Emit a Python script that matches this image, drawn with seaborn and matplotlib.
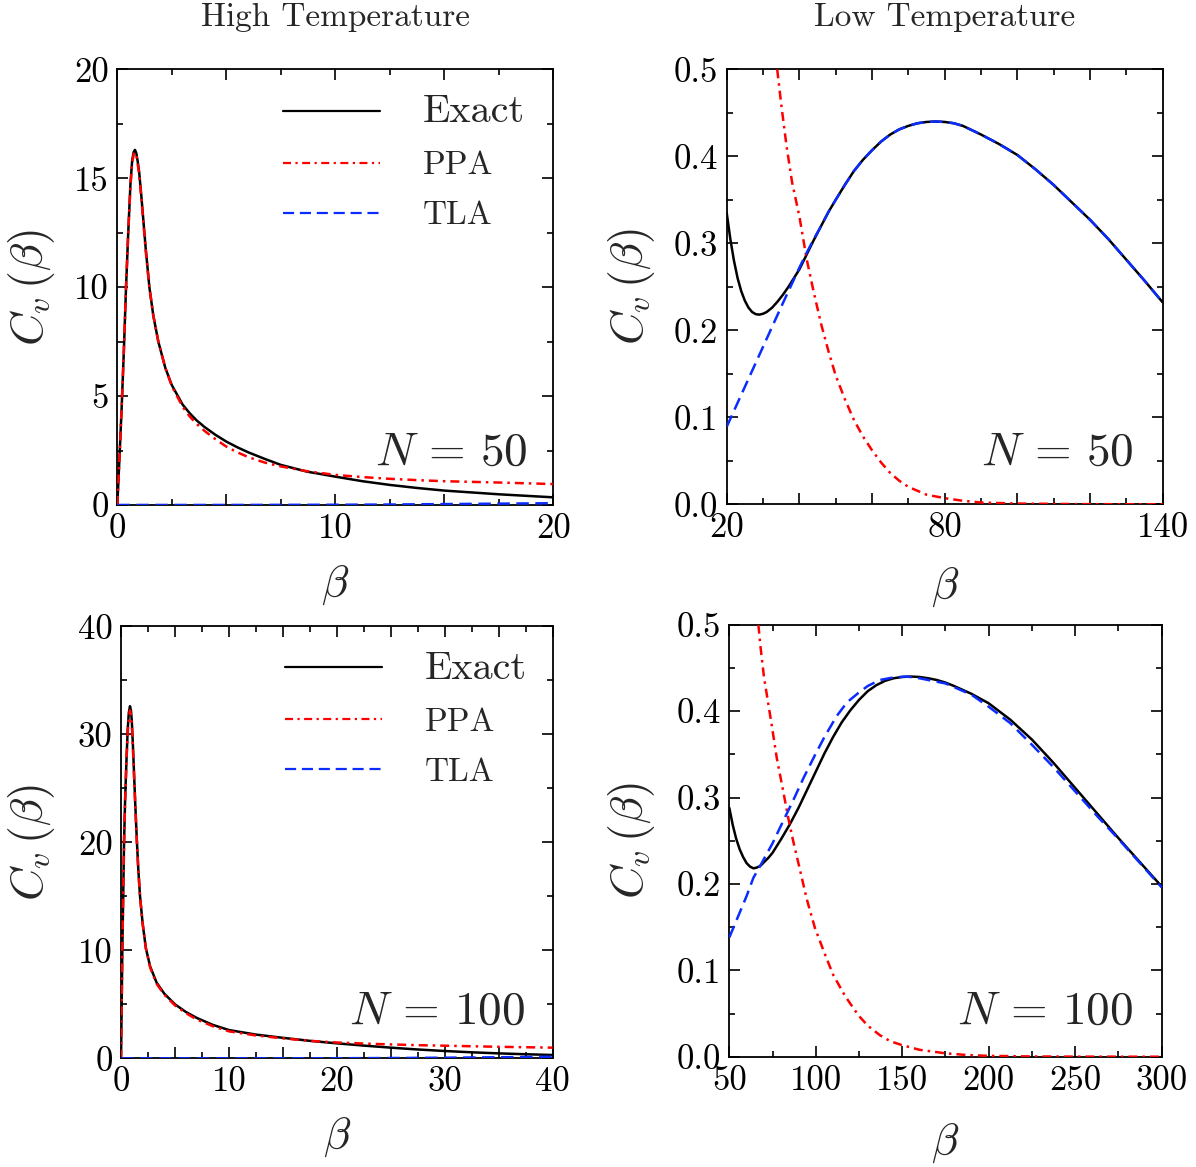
import numpy as np
import pandas as pd
import matplotlib
matplotlib.use("Agg")
import matplotlib.pyplot as plt
import seaborn as sns
from matplotlib.ticker import FixedLocator

sns.set_theme(style="ticks")
plt.rcParams.update({
    "font.family": "serif",
    "font.serif": ["cmr10"],
    "mathtext.fontset": "cm",
    "axes.formatter.use_mathtext": True,
    "axes.unicode_minus": False,
    "axes.linewidth": 1.3,
    "axes.edgecolor": "black",
})

# ---------------- data ----------------
# Panel (a): N = 50, high temperature
hi50_exact_beta = [0, 0.1, 0.2, 0.3, 0.4, 0.5, 0.6, 0.68, 0.75, 0.81, 0.87, 0.93, 1.0, 1.1, 1.2,
                   1.3, 1.47, 1.65, 1.88, 2.2, 2.5, 3.0, 3.33, 3.64, 4.0, 4.5, 5.0, 5.5, 6.0,
                   6.75, 7.5, 8.7, 10, 11.25, 12.5, 13.75, 15, 17.5, 20]
hi50_exact_cv = [0, 2.2, 4.5, 7.1, 10, 12.5, 14.7, 15.8, 16.2, 16.3, 16.15, 15.8, 15.3, 14.2, 13.0,
                 11.8, 10, 8.7, 7.5, 6.3, 5.5, 4.6, 4.2, 3.88, 3.58, 3.22, 2.91, 2.65, 2.42,
                 2.12, 1.84, 1.53, 1.30, 1.09, 0.92, 0.78, 0.66, 0.49, 0.35]
hi50_ppa_beta = [0, 0.1, 0.2, 0.3, 0.4, 0.5, 0.6, 0.68, 0.75, 0.81, 0.87, 0.93, 1.0, 1.1, 1.2,
                 1.3, 1.47, 1.65, 1.88, 2.2, 2.5, 3.0, 3.33, 3.64, 4.0, 4.5, 5.0, 5.5, 6.0,
                 6.75, 7.5, 8.7, 10, 11.25, 12.5, 13.75, 15, 17.5, 20]
hi50_ppa_cv = [0, 2.2, 4.5, 7.1, 10, 12.5, 14.6, 15.7, 16.1, 16.2, 16.05, 15.7, 15.2, 14.1, 12.9,
               11.7, 10, 8.7, 7.5, 6.3, 5.45, 4.5, 4.05, 3.72, 3.4, 3.02, 2.68, 2.42, 2.2,
               1.95, 1.77, 1.55, 1.38, 1.28, 1.20, 1.14, 1.09, 1.03, 0.96]
hi50_tla_beta = [0, 5, 10, 12.5, 15, 17.5, 20]
hi50_tla_cv = [0, 0, 0.01, 0.02, 0.04, 0.06, 0.08]

# Panel (b): N = 50, low temperature
lo50_exact_beta = [20, 21, 22, 23, 24, 25, 26, 27, 28, 29, 30, 31, 32.5, 34, 35.5, 37, 38.5, 40,
                   42, 44, 46, 48, 50, 52.5, 55, 57.5, 60, 62.5, 65, 67.5, 70, 72.5, 75, 77.5,
                   80, 82.5, 85, 87.5, 90, 95, 100, 105, 110, 115, 120, 125, 130, 135, 140]
lo50_exact_cv = [0.335, 0.305, 0.28, 0.26, 0.245, 0.234, 0.226, 0.221, 0.2185, 0.218, 0.219,
                 0.221, 0.226, 0.233, 0.241, 0.25, 0.26, 0.27, 0.287, 0.304, 0.32, 0.336, 0.35,
                 0.367, 0.383, 0.396, 0.407, 0.417, 0.425, 0.431, 0.435, 0.438, 0.4395, 0.44,
                 0.4395, 0.438, 0.435, 0.43, 0.425, 0.414, 0.4015, 0.385, 0.367, 0.347, 0.327,
                 0.305, 0.281, 0.257, 0.232]
lo50_tla_beta = [20, 25, 30, 35, 40, 42, 44, 46, 48, 50, 52.5, 55, 57.5, 60, 62.5, 65, 67.5, 70,
                 72.5, 75, 77.5, 80, 82.5, 85, 87.5, 90, 95, 100, 105, 110, 115, 120, 125, 130,
                 135, 140]
lo50_tla_cv = [0.089, 0.135, 0.181, 0.227, 0.272, 0.289, 0.305, 0.32, 0.336, 0.35, 0.367, 0.383,
               0.396, 0.407, 0.417, 0.425, 0.431, 0.435, 0.438, 0.4395, 0.44, 0.4395, 0.438,
               0.435, 0.43, 0.425, 0.414, 0.4015, 0.385, 0.367, 0.347, 0.327, 0.305, 0.281,
               0.257, 0.232]
lo50_ppa_beta = [33.9, 35, 36.5, 38, 40, 42, 44, 46, 48, 50, 52.5, 55, 57.5, 60, 62.5, 65, 67.5,
                 70, 75, 80, 85, 90, 100, 120, 140]
lo50_ppa_cv = [0.5, 0.46, 0.411, 0.37, 0.331, 0.282, 0.243, 0.207, 0.176, 0.148, 0.121, 0.097,
               0.078, 0.062, 0.048, 0.036, 0.027, 0.02, 0.011, 0.007, 0.004, 0.002, 0.0008,
               0.0001, 0.0]

# Panel (c): N = 100, high temperature
hi100_exact_beta = [0, 0.06, 0.12, 0.2, 0.28, 0.38, 0.5, 0.62, 0.72, 0.83, 0.92, 1.0, 1.1, 1.2,
                    1.32, 1.45, 1.6, 1.76, 2.0, 2.3, 2.7, 3.3, 4.0, 5.0, 6.0, 7.0, 8.5, 10, 12.5,
                    15, 17.5, 20, 22.5, 25, 27.5, 30, 32.5, 35, 37.5, 40]
hi100_exact_cv = [0, 5, 10, 15, 20, 24, 27.5, 30.5, 32, 32.6, 32.2, 31.2, 29, 26.5, 23.5, 20.5,
                  17.5, 15, 12.5, 10.2, 8.5, 7.0, 6.0, 5.0, 4.3, 3.75, 3.1, 2.62, 2.2, 1.9, 1.62,
                  1.39, 1.18, 0.99, 0.82, 0.68, 0.56, 0.46, 0.38, 0.31]
hi100_ppa_beta = [0, 0.06, 0.12, 0.2, 0.28, 0.38, 0.5, 0.62, 0.72, 0.83, 0.92, 1.0, 1.1, 1.2,
                  1.32, 1.45, 1.6, 1.76, 2.0, 2.3, 2.7, 3.3, 4.0, 5.0, 6.0, 7.0, 8.5, 10, 12.5,
                  15, 17.5, 20, 22.5, 25, 27.5, 30, 32.5, 35, 37.5, 40]
hi100_ppa_cv = [0, 5, 10, 15, 20, 24, 27.4, 30.2, 31.5, 32.2, 31.8, 30.9, 28.8, 26.3, 23.4, 20.4,
                17.4, 15, 12.5, 10.2, 8.4, 6.9, 5.9, 4.9, 4.2, 3.6, 2.98, 2.5, 2.12, 1.85, 1.62,
                1.47, 1.37, 1.29, 1.22, 1.17, 1.12, 1.07, 1.03, 0.99]
hi100_tla_beta = [0, 10, 20, 25, 30, 35, 40]
hi100_tla_cv = [0, 0, 0.01, 0.03, 0.06, 0.1, 0.15]

# Panel (d): N = 100, low temperature
lo100_exact_beta = [50, 52, 54, 56, 58, 60, 62, 64, 66, 68, 70, 72.5, 75, 80, 85, 90, 95, 100,
                    105, 110, 115, 120, 125, 130, 135, 140, 145, 150, 155, 160, 165, 170, 175,
                    180, 190, 200, 212.5, 225, 237.5, 250, 262.5, 275, 287.5, 300]
lo100_exact_cv = [0.288, 0.268, 0.252, 0.24, 0.231, 0.224, 0.22, 0.218, 0.219, 0.221, 0.225,
                  0.23, 0.236, 0.252, 0.269, 0.288, 0.309, 0.33, 0.351, 0.37, 0.387, 0.401,
                  0.413, 0.423, 0.43, 0.435, 0.438, 0.4395, 0.44, 0.4395, 0.438, 0.436, 0.433,
                  0.429, 0.42, 0.409, 0.39, 0.367, 0.34, 0.311, 0.282, 0.253, 0.225, 0.197]
lo100_tla_beta = [50, 55, 60, 63.9, 68.7, 75, 80, 87, 93, 99.5, 105, 112, 118, 124.6, 130, 137,
                  145, 152.5, 160, 175, 190, 200, 212.5, 225, 237.5, 250, 262.5, 275, 287.5, 300]
lo100_tla_cv = [0.138, 0.162, 0.186, 0.207, 0.224, 0.247, 0.268, 0.297, 0.323, 0.349, 0.37,
                0.394, 0.41, 0.421, 0.429, 0.436, 0.439, 0.44, 0.438, 0.432, 0.419, 0.405,
                0.386, 0.361, 0.335, 0.307, 0.279, 0.252, 0.224, 0.196]
lo100_ppa_beta = [66.8, 68, 70, 72, 74.5, 77.5, 81.2, 84, 87, 91, 94.7, 99.5, 105, 110, 117,
                  124.6, 130, 137, 143, 149.7, 160, 174.7, 187, 200, 225, 250, 300]
lo100_ppa_cv = [0.5, 0.475, 0.44, 0.415, 0.384, 0.345, 0.307, 0.277, 0.249, 0.215, 0.183, 0.149,
                0.12, 0.095, 0.07, 0.048, 0.036, 0.025, 0.018, 0.0135, 0.008, 0.004, 0.002,
                0.001, 0.0003, 0.0001, 0.0]

series_labels = ["Exact", "PPA", "TLA"]
panel_titles = ["High Temperature", "Low Temperature"]
panel_N = [r"$N\,=\,50$", r"$N\,=\,50$", r"$N\,=\,100$", r"$N\,=\,100$"]

# ---------------- figure ----------------
fig = plt.figure(figsize=(11.96, 11.67), dpi=100)
positions = [
    [0.0981, 0.5673, 0.3645, 0.3733],
    [0.6076, 0.5679, 0.3646, 0.3727],
    [0.1012, 0.0931, 0.3609, 0.3703],
    [0.6098, 0.0945, 0.3615, 0.3702],
]
axes = [fig.add_axes(p) for p in positions]

panels = [
    (hi50_exact_beta, hi50_exact_cv, hi50_ppa_beta, hi50_ppa_cv, hi50_tla_beta, hi50_tla_cv),
    (lo50_exact_beta, lo50_exact_cv, lo50_ppa_beta, lo50_ppa_cv, lo50_tla_beta, lo50_tla_cv),
    (hi100_exact_beta, hi100_exact_cv, hi100_ppa_beta, hi100_ppa_cv, hi100_tla_beta, hi100_tla_cv),
    (lo100_exact_beta, lo100_exact_cv, lo100_ppa_beta, lo100_ppa_cv, lo100_tla_beta, lo100_tla_cv),
]

LW = 1.8
styles = [
    dict(color="black", linestyle="-"),
    dict(color="#ff0000", linestyle=(0, (3.6, 2.0, 1.0, 2.0))),
    dict(color="#0a2cff", linestyle=(0, (5.0, 2.6))),
]

for ax, data in zip(axes, panels):
    eb, ec, pb, pc, tb, tc = data
    sns.lineplot(x=eb, y=ec, ax=ax, estimator=None, sort=False, lw=LW, label=series_labels[0],
                 zorder=3, **styles[0])
    sns.lineplot(x=pb, y=pc, ax=ax, estimator=None, sort=False, lw=LW, label=series_labels[1],
                 zorder=4, **styles[1])
    sns.lineplot(x=tb, y=tc, ax=ax, estimator=None, sort=False, lw=LW, label=series_labels[2],
                 zorder=5, **styles[2])

# axis ranges / ticks
tick_cfg = [
    dict(xlim=(0, 20), xmaj=[0, 5, 10, 15, 20], xlab=["0", "", "10", "", "20"],
         xmin=np.arange(0, 20.01, 2.5),
         ylim=(0, 20), ymaj=[0, 5, 10, 15, 20], ylab=["0", "5", "10", "15", "20"],
         ymin=np.arange(0, 20.01, 2.5)),
    dict(xlim=(20, 140), xmaj=[20, 40, 60, 80, 100, 120, 140],
         xlab=["20", "", "", "80", "", "", "140"], xmin=np.arange(20, 140.01, 10),
         ylim=(0, 0.5), ymaj=[0, 0.1, 0.2, 0.3, 0.4, 0.5],
         ylab=["0.0", "0.1", "0.2", "0.3", "0.4", "0.5"], ymin=np.arange(0, 0.501, 0.05)),
    dict(xlim=(0, 40), xmaj=[0, 5, 10, 15, 20, 25, 30, 35, 40],
         xlab=["0", "", "10", "", "20", "", "30", "", "40"], xmin=np.arange(0, 40.01, 2.5),
         ylim=(0, 40), ymaj=[0, 10, 20, 30, 40], ylab=["0", "10", "20", "30", "40"],
         ymin=np.arange(0, 40.01, 5)),
    dict(xlim=(50, 300), xmaj=[50, 100, 150, 200, 250, 300],
         xlab=["50", "100", "150", "200", "250", "300"], xmin=np.arange(50, 300.01, 25),
         ylim=(0, 0.5), ymaj=[0, 0.1, 0.2, 0.3, 0.4, 0.5],
         ylab=["0.0", "0.1", "0.2", "0.3", "0.4", "0.5"], ymin=np.arange(0, 0.501, 0.05)),
]

ylabel_x = [-0.138, -0.16, -0.148, -0.168]
xlabel_y = [-0.135, -0.142, -0.133, -0.15]
ntext_xy = [(0.94, 0.092), (0.932, 0.09), (0.936, 0.079), (0.934, 0.076)]

for i, (ax, cfg) in enumerate(zip(axes, tick_cfg)):
    ax.set_xlim(*cfg["xlim"])
    ax.set_ylim(*cfg["ylim"])
    ax.set_xticks(cfg["xmaj"])
    ax.set_xticklabels(cfg["xlab"])
    ax.set_yticks(cfg["ymaj"])
    ax.set_yticklabels(cfg["ylab"])
    ax.xaxis.set_minor_locator(FixedLocator(cfg["xmin"]))
    ax.yaxis.set_minor_locator(FixedLocator(cfg["ymin"]))
    ax.tick_params(which="both", direction="in", top=True, right=True, labelsize=25,
                   width=1.2, colors="black", pad=6)
    ax.tick_params(which="major", length=8)
    ax.tick_params(which="minor", length=4.5)
    for s in ax.spines.values():
        s.set_visible(True)
        s.set_color("black")
        s.set_linewidth(1.3)
    ax.set_facecolor("white")
    ax.set_xlabel(r"$\beta$", fontsize=32)
    ax.set_ylabel(r"$C_v\,(\beta)$", fontsize=33)
    ax.yaxis.set_label_coords(ylabel_x[i], 0.5)
    ax.xaxis.set_label_coords(0.5, xlabel_y[i])
    ax.text(ntext_xy[i][0], ntext_xy[i][1], panel_N[i], transform=ax.transAxes,
            ha="right", va="baseline", fontsize=34)
    if i in (0, 2):
        leg = ax.legend(loc="upper left", bbox_to_anchor=(0.38, 0.942), frameon=False,
                        fontsize=24, handlelength=2.9, handletextpad=1.3, labelspacing=0.62,
                        borderpad=0, borderaxespad=0)
        leg.get_texts()[0].set_fontsize(29)
        for h in leg.get_lines():
            h.set_linewidth(1.6)
    else:
        lg = ax.get_legend()
        if lg is not None:
            lg.remove()

axes[0].set_title(panel_titles[0], fontsize=24, pad=31)
axes[1].set_title(panel_titles[1], fontsize=24, pad=31)

fig.savefig("out.png", dpi=100, facecolor="white")
